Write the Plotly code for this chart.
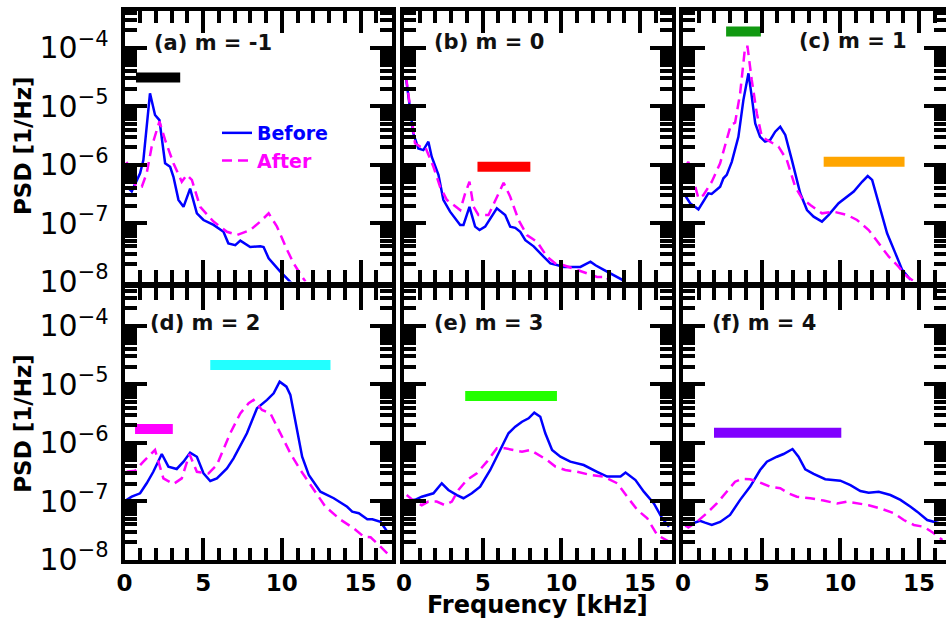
import plotly.graph_objects as go

# ---------------- data (frequency in kHz, PSD in 1/Hz) ----------------
freq_a_before = [0.14, 0.46, 0.99, 1.2, 1.62, 1.94, 2.22, 2.58, 2.9, 3.11, 3.43, 3.75, 4.17, 4.6, 5.02, 5.66, 6.29, 6.6, 7.04, 7.36, 7.99, 8.63, 8.84, 9.16, 9.9, 10.43, 10.7]
psd_a_before = [4.2e-7, 3.5e-7, 7.1e-7, 1.2e-6, 1.67e-5, 7.1e-6, 5.8e-6, 1.06e-6, 9.2e-7, 6.2e-7, 2.5e-7, 1.9e-7, 3.9e-7, 1.47e-7, 1.13e-7, 9.3e-8, 7.1e-8, 4.5e-8, 4.2e-8, 5.0e-8, 3.9e-8, 4.0e-8, 3.9e-8, 2.5e-8, 1.48e-8, 1.07e-8, 8.9e-9]
freq_a_after = [0.14, 0.46, 0.78, 1.1, 1.41, 1.73, 2.22, 2.58, 3.11, 3.64, 3.96, 4.28, 4.81, 5.66, 6.51, 7.15, 7.99, 8.63, 9.16, 9.69, 10.33, 10.75, 11.29, 11.5]
psd_a_after = [1.12e-6, 5.5e-7, 4.2e-7, 4.2e-7, 7.1e-7, 2.04e-6, 5.5e-6, 2.65e-6, 1.06e-6, 5.1e-7, 6.7e-7, 5.5e-7, 1.9e-7, 1.06e-7, 7.1e-8, 6.25e-8, 7.6e-8, 1.06e-7, 1.47e-7, 8.7e-8, 3.5e-8, 2.04e-8, 1.2e-8, 1.0e-8]

freq_b_before = [0.13, 0.38, 0.59, 0.91, 1.23, 1.55, 1.76, 2.19, 2.5, 2.93, 3.57, 3.78, 4.16, 4.52, 4.8, 5.16, 5.9, 6.43, 6.75, 7.07, 7.39, 7.71, 8.24, 8.87, 9.3, 9.72, 10.15, 10.68, 11.21, 11.85, 12.17, 12.7, 13.33, 13.87, 14.1]
psd_b_before = [3.0e-5, 8.65e-6, 3.45e-6, 1.9e-6, 1.78e-6, 2.48e-6, 1.37e-6, 6.7e-7, 2.5e-7, 1.57e-7, 9.3e-8, 9.3e-8, 1.9e-7, 8.7e-8, 7.6e-8, 8.7e-8, 1.79e-7, 1.38e-7, 8.7e-8, 8.3e-8, 7.1e-8, 5.1e-8, 4.0e-8, 2.66e-8, 2.04e-8, 1.92e-8, 1.78e-8, 1.78e-8, 1.78e-8, 2.19e-8, 1.9e-8, 1.58e-8, 1.29e-8, 1.07e-8, 8.9e-9]
freq_b_after = [0.13, 0.38, 0.7, 1.02, 1.34, 1.87, 2.29, 2.72, 3.14, 3.57, 3.89, 4.16, 4.42, 4.73, 5.37, 5.9, 6.33, 6.75, 7.28, 7.81, 8.45, 9.09, 9.62, 10.15, 11.0, 11.63, 12.27, 12.91, 13.0]
psd_b_after = [3.2e-5, 9.8e-6, 2.32e-6, 2.04e-6, 2.04e-6, 9.2e-7, 4.2e-7, 2.5e-7, 2.04e-7, 1.67e-7, 3.24e-7, 5.1e-7, 1.9e-7, 1.38e-7, 1.38e-7, 2.83e-7, 4.9e-7, 2.83e-7, 1.13e-7, 6.25e-8, 4.8e-8, 2.66e-8, 2.04e-8, 1.9e-8, 1.58e-8, 1.38e-8, 1.2e-8, 1.2e-8, 1.0e-8]

freq_c_before = [0.13, 0.45, 0.98, 1.29, 1.61, 1.82, 2.36, 2.57, 2.78, 3.1, 3.52, 3.84, 4.16, 4.37, 4.59, 4.9, 5.22, 5.54, 5.86, 6.18, 6.5, 6.92, 7.45, 7.88, 8.3, 8.83, 9.26, 9.89, 10.32, 10.85, 11.38, 11.74, 12.02, 12.44, 12.97, 13.5, 13.93, 14.46]
psd_c_before = [3.0e-7, 2.19e-7, 1.72e-7, 2.32e-7, 3.24e-7, 3.16e-7, 4.2e-7, 5.85e-7, 6.7e-7, 1.12e-6, 3.0e-6, 1.29e-5, 3.67e-5, 1.46e-5, 5.1e-6, 3.0e-6, 2.48e-6, 2.65e-6, 3.67e-6, 4.47e-6, 3.24e-6, 1.2e-6, 3.24e-7, 1.67e-7, 1.29e-7, 1.06e-7, 1.38e-7, 2.19e-7, 2.66e-7, 3.47e-7, 5.1e-7, 6.4e-7, 5.5e-7, 2.19e-7, 6.7e-8, 3.03e-8, 1.58e-8, 1.07e-8]
freq_c_after = [0.13, 0.34, 0.66, 0.98, 1.29, 1.83, 2.36, 2.78, 3.04, 3.31, 3.63, 3.95, 4.1, 4.37, 4.69, 5.01, 5.54, 6.07, 6.6, 7.13, 7.56, 8.09, 8.83, 9.57, 10.43, 11.06, 11.8, 12.44, 13.08, 13.71, 14.25, 14.7]
psd_c_after = [9.2e-7, 1.12e-6, 5.5e-7, 2.66e-7, 3.0e-7, 5.1e-7, 1.06e-6, 2.65e-6, 4.8e-6, 5.25e-6, 1.66e-5, 1.05e-4, 1.05e-4, 2.82e-5, 7.6e-6, 3.0e-6, 2.48e-6, 2.04e-6, 1.2e-6, 4.2e-7, 2.66e-7, 2.04e-7, 1.47e-7, 1.57e-7, 1.38e-7, 1.13e-7, 7.6e-8, 4.5e-8, 2.66e-8, 1.78e-8, 1.2e-8, 1.0e-8]

freq_d_before = [0.14, 0.46, 0.99, 1.41, 1.83, 2.37, 2.79, 3.32, 3.75, 4.17, 4.6, 5.02, 5.45, 5.87, 6.51, 6.93, 7.78, 8.42, 9.06, 9.48, 9.86, 10.29, 10.54, 10.86, 11.29, 11.71, 12.45, 13.3, 14.15, 14.47, 14.89, 15.43, 15.75, 16.27, 16.7, 16.95]
psd_d_before = [1.05e-7, 1.19e-7, 1.36e-7, 2.02e-7, 3.18e-7, 6.4e-7, 3.9e-7, 3.55e-7, 4.73e-7, 6.76e-7, 5.75e-7, 2.99e-7, 2.21e-7, 2.45e-7, 3.63e-7, 5.4e-7, 1.45e-6, 3.9e-6, 5.4e-6, 7.0e-6, 1.11e-5, 9.1e-6, 6.6e-6, 2.45e-6, 5.75e-7, 2.8e-7, 1.45e-7, 1.12e-7, 8.0e-8, 6.6e-8, 6.2e-8, 4.9e-8, 4.9e-8, 4.4e-8, 3.0e-8, 2.95e-8]
freq_d_after = [0.14, 0.67, 1.2, 1.94, 2.47, 3.11, 3.64, 4.13, 4.6, 5.34, 5.87, 6.72, 7.36, 7.89, 8.2, 8.74, 9.27, 9.9, 10.54, 11.18, 11.92, 12.77, 13.73, 14.57, 15.21, 15.64, 16.27, 16.8]
psd_d_after = [3.18e-7, 3.3e-7, 4.73e-7, 7.5e-7, 2.45e-7, 1.96e-7, 2.45e-7, 6.4e-7, 3.18e-7, 2.99e-7, 4.15e-7, 1.45e-6, 3.18e-6, 4.73e-6, 5.4e-6, 3.63e-6, 3.18e-6, 1.45e-6, 6.6e-7, 3.41e-7, 1.77e-7, 8.0e-8, 4.8e-8, 3.42e-8, 2.45e-8, 2.4e-8, 1.66e-8, 1.2e-8]

freq_e_before = [0.0, 0.7, 1.13, 1.55, 1.87, 2.4, 2.82, 3.36, 3.78, 4.31, 4.84, 5.48, 6.11, 6.64, 7.07, 7.5, 7.92, 8.28, 8.66, 8.98, 9.41, 9.94, 10.57, 11.42, 12.27, 12.91, 13.76, 14.08, 14.71, 15.24, 15.88, 16.41, 16.84]
psd_e_before = [1.0e-7, 1.05e-7, 1.19e-7, 1.27e-7, 1.36e-7, 2.02e-7, 1.55e-7, 1.27e-7, 1.12e-7, 1.36e-7, 1.77e-7, 3.41e-7, 7.5e-7, 1.45e-6, 1.88e-6, 2.29e-6, 2.62e-6, 3.27e-6, 2.79e-6, 1.45e-6, 7.5e-7, 5.75e-7, 4.73e-7, 4.15e-7, 3.18e-7, 2.63e-7, 2.63e-7, 3.09e-7, 2.29e-7, 1.45e-7, 9.1e-8, 5.07e-8, 3.63e-8]
freq_e_after = [0.17, 0.55, 1.13, 1.55, 2.08, 2.61, 3.04, 3.46, 3.99, 4.63, 5.27, 5.9, 6.43, 6.96, 7.5, 8.03, 8.55, 9.09, 9.62, 10.25, 11.0, 11.85, 12.7, 13.55, 14.18, 14.82, 15.46, 16.09, 16.84]
psd_e_after = [1.27e-7, 1.05e-7, 8.5e-8, 9.8e-8, 9.8e-8, 8.5e-8, 9.8e-8, 1.55e-7, 2.29e-7, 2.99e-7, 4.73e-7, 8.0e-7, 8.0e-7, 7.5e-7, 7.0e-7, 7.5e-7, 6.2e-7, 5.06e-7, 3.9e-7, 3.41e-7, 3.18e-7, 2.8e-7, 2.63e-7, 2.02e-7, 1.19e-7, 7.1e-8, 5.07e-8, 2.63e-8, 2.02e-8]

freq_f_before = [0.13, 0.66, 1.08, 1.4, 1.83, 2.36, 2.99, 3.63, 4.27, 4.9, 5.33, 5.97, 6.39, 6.96, 7.34, 7.77, 8.3, 9.04, 10.0, 10.64, 11.27, 11.8, 12.44, 13.18, 13.82, 14.46, 14.88, 15.52, 16.26, 16.69]
psd_f_before = [3.75e-8, 4.17e-8, 4.6e-8, 4.27e-8, 3.9e-8, 4.4e-8, 5.8e-8, 1.05e-7, 1.77e-7, 3.41e-7, 4.73e-7, 5.75e-7, 6.4e-7, 7.8e-7, 5.75e-7, 3.5e-7, 2.92e-7, 2.37e-7, 2.24e-7, 1.88e-7, 1.49e-7, 1.39e-7, 1.45e-7, 1.27e-7, 1.05e-7, 8.0e-8, 6.6e-8, 4.74e-8, 4.17e-8, 3.9e-8]
freq_f_after = [0.13, 0.34, 0.87, 1.51, 2.15, 2.78, 3.31, 3.74, 4.27, 4.9, 5.54, 6.18, 6.71, 7.24, 8.09, 8.94, 9.79, 10.43, 11.27, 11.8, 12.55, 13.4, 14.03, 14.67, 15.31, 15.94, 16.48]
psd_f_after = [3.9e-8, 3.55e-8, 4.4e-8, 6.2e-8, 9.1e-8, 1.45e-7, 2.15e-7, 2.4e-7, 2.37e-7, 2.07e-7, 1.77e-7, 1.66e-7, 1.36e-7, 1.19e-7, 1.12e-7, 1.02e-7, 9.1e-8, 9.8e-8, 8.9e-8, 8.5e-8, 7.5e-8, 6.2e-8, 4.74e-8, 3.9e-8, 3.63e-8, 2.82e-8, 2.16e-8]

# frequency-band bars: panel index, start, end (kHz), level (1/Hz), colour
bar_panel = [0, 1, 2, 2, 3, 3, 4, 5]
bar_start = [0.73, 4.67, 2.74, 8.94, 0.67, 5.45, 3.89, 1.97]
bar_end = [3.54, 8.03, 4.95, 14.08, 3.07, 13.09, 9.72, 10.06]
bar_level = [3.1e-5, 9.2e-7, 1.9e-4, 1.12e-6, 1.72e-6, 2.14e-5, 6.3e-6, 1.48e-6]
bar_color = ["#000000", "#ff0000", "#119911", "#ffa500", "#ff00ff", "#22ffff", "#22ff00", "#8000ff"]

panel_labels = ["(a) m = -1", "(b) m = 0", "(c) m = 1", "(d) m = 2", "(e) m = 3", "(f) m = 4"]
series_names = ["Before", "After"]
x_tick_vals = [0, 5, 10, 15]

before_freqs = [freq_a_before, freq_b_before, freq_c_before, freq_d_before, freq_e_before, freq_f_before]
before_psds = [psd_a_before, psd_b_before, psd_c_before, psd_d_before, psd_e_before, psd_f_before]
after_freqs = [freq_a_after, freq_b_after, freq_c_after, freq_d_after, freq_e_after, freq_f_after]
after_psds = [psd_a_after, psd_b_after, psd_c_after, psd_d_after, psd_e_after, psd_f_after]

# ---------------- layout geometry (pixels) ----------------
W, H = 946, 619
col_left = [124.5, 404.0, 683.0]
col_right = [392.0, 671.5, 946.0]
row_top = [10.5, 288.0]
row_bottom = [281.5, 559.5]
px_per_khz = (392.0 - 124.5) / 17.0

BLUE = "#0000ff"
MAGENTA = "#ff00ff"
FONT = "DejaVu Sans"


def px(x):
    return x / W


def py(y):
    return 1 - y / H


fig = go.Figure()

for i in range(6):
    xa = "x" if i == 0 else f"x{i+1}"
    ya = "y" if i == 0 else f"y{i+1}"
    fig.add_trace(go.Scatter(
        x=before_freqs[i], y=before_psds[i], mode="lines",
        line=dict(color=BLUE, width=2.5),
        name=f"<span style='color:{BLUE}'>{series_names[0]}</span>",
        showlegend=(i == 0), xaxis=xa, yaxis=ya))
    fig.add_trace(go.Scatter(
        x=after_freqs[i], y=after_psds[i], mode="lines",
        line=dict(color=MAGENTA, width=2.5, dash="10px,6px"),
        name=f"<span style='color:{MAGENTA}'>{series_names[1]}</span>",
        showlegend=(i == 0), xaxis=xa, yaxis=ya))

for p, s, e, lv, col in zip(bar_panel, bar_start, bar_end, bar_level, bar_color):
    xa = "x" if p == 0 else f"x{p+1}"
    ya = "y" if p == 0 else f"y{p+1}"
    fig.add_trace(go.Scatter(
        x=[s, e], y=[lv, lv], mode="lines",
        line=dict(color=col, width=10), showlegend=False,
        hoverinfo="skip", xaxis=xa, yaxis=ya))

layout = dict(
    width=W, height=H, autosize=False,
    margin=dict(l=0, r=0, t=0, b=0, pad=0, autoexpand=False),
    paper_bgcolor="white", plot_bgcolor="white",
    showlegend=True,
    legend=dict(x=px(217), y=py(114), xanchor="left", yanchor="top",
                bgcolor="rgba(0,0,0,0)", borderwidth=0,
                font=dict(family=FONT, size=19, weight="bold"),
                tracegroupgap=0, itemwidth=30),
)

for i in range(6):
    r, c = divmod(i, 3)
    xk = "xaxis" if i == 0 else f"xaxis{i+1}"
    yk = "yaxis" if i == 0 else f"yaxis{i+1}"
    xa = "x" if i == 0 else f"x{i+1}"
    ya = "y" if i == 0 else f"y{i+1}"
    xmax = (col_right[c] - col_left[c]) / px_per_khz
    layout[xk] = dict(
        domain=[px(col_left[c]), px(col_right[c])],
        anchor=ya, range=[0, xmax], automargin=False,
        showline=True, linecolor="black", linewidth=4, mirror="allticks",
        ticks="inside", ticklen=22, tickwidth=3.5, tickcolor="black",
        tickmode="array", tickvals=x_tick_vals,
        minor=dict(ticks="inside", ticklen=12, tickwidth=3.5, tickcolor="black", dtick=1, tick0=0),
        showgrid=False, zeroline=False,
        showticklabels=(r == 1),
        tickfont=dict(family=FONT, size=23, weight="bold", color="black"),
        ticklabelstandoff=0,
    )
    layout[yk] = dict(
        domain=[py(row_bottom[r]), py(row_top[r])],
        anchor=xa, type="log", range=[-8, -8 + (row_bottom[r] - row_top[r]) / 58.4],
        automargin=False,
        showline=True, linecolor="black", linewidth=4, mirror="allticks",
        ticks="inside", ticklen=22, tickwidth=3.5, tickcolor="black",
        dtick=1, exponentformat="power",
        minor=dict(ticks="inside", ticklen=12, tickwidth=3.5, tickcolor="black", dtick="D1"),
        showgrid=False, zeroline=False,
        showticklabels=(c == 0),
        tickfont=dict(family=FONT, size=24, color="black"),
        ticklabelstandoff=7,
    )

fig.update_layout(**layout)

# panel labels
label_pos = [(151.7, 43, "left"), (431.7, 42, "left"), (909, 41, "right"),
             (148, 323, "left"), (431.7, 323, "left"), (710, 323, "left")]
for (lx, ly, anc), txt in zip(label_pos, panel_labels):
    fig.add_annotation(x=px(lx), y=py(ly), xref="paper", yref="paper",
                       text=txt, showarrow=False, xanchor=anc, yanchor="middle",
                       font=dict(family=FONT, size=21, weight="bold", color="#111111"))

# axis titles
for r in range(2):
    fig.add_annotation(x=px(23), y=py((row_top[r] + row_bottom[r]) / 2), xref="paper", yref="paper",
                       text="PSD [1/Hz]", textangle=-90, showarrow=False,
                       xanchor="center", yanchor="middle",
                       font=dict(family=FONT, size=23, weight="bold", color="black"))
fig.add_annotation(x=px((col_left[1] + col_right[1]) / 2), y=py(605), xref="paper", yref="paper",
                   text="Frequency [kHz]", showarrow=False, xanchor="center", yanchor="middle",
                   font=dict(family=FONT, size=24, weight="bold", color="black"))

fig.write_html(
    "out.html",
    config={"displayModeBar": False},
    post_script="document.body.style.margin='0';document.body.style.padding='0';"
                "document.body.style.overflow='hidden';",
)
